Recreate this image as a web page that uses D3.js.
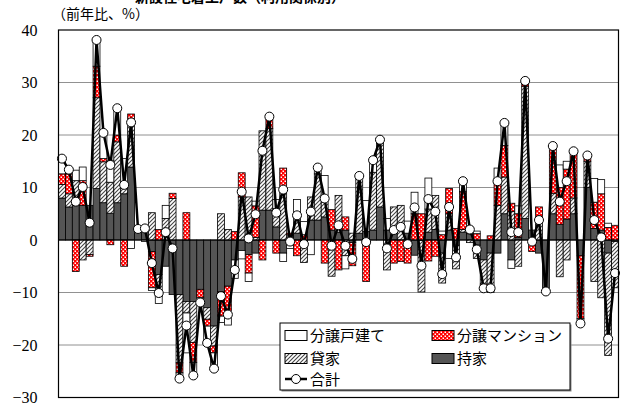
<!DOCTYPE html>
<html>
<head>
<meta charset="utf-8">
<script src="https://cdn.jsdelivr.net/npm/d3@7"></script>
<style>
  body { margin: 0; background: #fff; }
  svg { display: block; }
</style>
</head>
<body>
<svg id="chart" width="626" height="406"></svg>
<script>
// Monthly contributions to year-on-year change of housing starts (%pt) by tenure
const months = d3.range(1, 82);
const mochiie = [8.0, 6.3, 6.9, 6.6, 6.6, 9.8, 7.1, 5.1, 7.1, 8.8, 13.9, 1.9, 1.6, -2.2, -6.6, -5.0, -10.4, -10.4, -11.7, -11.7,
  -9.4, -12.9, -16.4, -9.8, -8.8, -3.8, -2.0, -2.8, -2.5, 5.7, 5.7, 2.5, -2.5, 1.0, 1.3, -1.5, 3.8, 3.8, 4.4, 1.9,
  1.5, 1.9, -0.5, 1.3, 1.6, 1.9, 6.3, 1.9, 1.3, 0, 1.3, -2.9, -0.1, 1.5, 2.0, -2.5, 1.9, -1.0, 1.5, 1.2,
  -1.0, -3.8, -2.5, -2.5, 5.0, -3.8, 0.5, 4.1, 1.9, -2.5, -9.3, 5.0, 3.0, 4.0, 5.0, -3.0, 10.0, 2.2, 1.9, -2.5, -0.3];
const kashiya = [2.6, 2.5, 4.4, -3.8, -2.8, 17.3, 7.8, 5.9, 11.6, 1.6, 9.1, 0, 0.9, 5.2, -4.1, 4.1, 7.9, -13.0, -2.2, -7.8,
  0, -2.2, -3.8, 5.0, 2.0, 0, 8.2, 8.2, 0.5, 15.1, 15.5, 3.5, 9.8, -0.6, 2.9, -2.8, 4.4, 8.8, 3.8, -6.9,
  7.0, -3.0, 1.3, 10.9, 0, 11.0, 12.2, -5.7, 5.0, 6.6, 0, 0, -9.8, 4.4, 6.5, -5.7, 3.1, -4.5, 0.5, -0.5,
  -2.5, -4.6, -7.5, 6.6, 7.0, 5.4, -5.0, 25.2, -0.8, 3.5, -0.5, 3.9, -7.0, -3.8, 3.0, 0, 5.0, -7.9, -11.0, -19.5, -8.8];
const mansion = [2.0, 3.8, -6.0, 4.7, -0.3, 6.0, 0.6, -0.9, 1.3, -5.0, 1.0, 0, 0, -6.9, 2.0, 0, 1.0, -1.9, 5.2, -3.8,
  -1.6, -1.3, -1.3, -4.7, -5.7, 1.6, 4.6, -3.5, 6.0, -3.8, 2.3, -2.5, 3.9, 0.3, -3.0, 1.0, 0, 0, -4.4, 3.9,
  -5.7, 2.5, -4.4, 0, -7.9, 0, 0.6, 0, -4.4, -4.1, -4.4, 5.0, 5.0, -4.0, -3.1, 1.0, 4.8, 2.2, 7.2, 0.3,
  1.2, -0.8, 0.8, 4.8, 6.0, 1.6, 4.5, 1.0, -1.4, 2.8, 0, 8.5, 7.0, 9.5, 8.9, -12.0, 1.1, 5.0, 6.9, 2.4, 2.8];
const kodate = [2.9, 0.8, 2.0, 2.6, 0, 5.0, 4.9, 4.2, 5.1, 5.1, -1.6, 0.2, -0.3, -0.5, -1.4, 2.5, 0, -1.1, -7.6, -2.5,
  -0.9, -3.2, -3.0, -1.2, -1.7, -3.5, -1.6, -1.6, 0.9, 0, 0, 1.7, -1.6, -1.0, 3.5, 2.5, -2.8, 1.2, 4.1, 0,
  0, -2.5, 0, 0, 5.9, 2.3, 0, 2.2, 0, 0, 2.3, 4.1, 0, 5.9, 0, 0.7, -3.5, 0, 2.0, 1.0,
  0.5, 0, 0, 2.3, 4.3, -1.6, 1.5, 0, 0, 0, 0, 0.5, 4.3, 1.5, 0, -0.9, 0, 4.5, 2.7, 0.8, 0];
const total = [15.5, 13.4, 7.3, 10.1, 3.3, 38.1, 20.4, 14.3, 25.1, 10.5, 22.4, 2.1, 2.2, -4.4, -10.1, 1.5, -1.6, -26.4, -16.3, -25.8,
  -11.9, -19.6, -24.5, -10.7, -14.2, -5.7, 9.2, 0.3, 4.9, 17.0, 23.5, 5.2, 9.6, -0.3, 4.7, -0.8, 5.4, 13.8, 7.9, -1.1,
  2.8, -1.1, -3.6, 12.2, -0.4, 15.2, 19.1, -1.6, 1.9, 2.5, -0.8, 6.2, -4.9, 7.8, 5.4, -6.5, 6.3, -3.3, 11.2, 2.0,
  -1.8, -9.2, -9.2, 11.2, 22.3, 1.5, 1.5, 30.3, -0.3, 3.8, -9.8, 17.9, 7.3, 11.2, 16.9, -15.9, 16.1, 3.8, 0.5, -18.8, -6.3];
const yTicks = [40, 30, 20, 10, 0, -10, -20, -30];
const seriesKeys = ["mochiie", "kashiya", "mansion", "kodate"];
const seriesNames = { kodate: "分譲戸建て", mansion: "分譲マンション", kashiya: "貸家", mochiie: "持家" };

const svg = d3.select("#chart");
const defs = svg.append("defs");

// fill patterns
const hatch = defs.append("pattern").attr("id", "hatch").attr("patternUnits", "userSpaceOnUse")
  .attr("width", 4).attr("height", 4);
hatch.append("rect").attr("width", 4).attr("height", 4).attr("fill", "#fff");
hatch.append("path").attr("d", "M-1,1 l2,-2 M0,4 l4,-4 M3,5 l2,-2")
  .attr("stroke", "#444").attr("stroke-width", 1.1);

const dots = defs.append("pattern").attr("id", "dots").attr("patternUnits", "userSpaceOnUse")
  .attr("width", 4).attr("height", 4);
dots.append("rect").attr("width", 4).attr("height", 4).attr("fill", "#f00");
dots.append("rect").attr("x", 0.5).attr("y", 0.5).attr("width", 1.5).attr("height", 1.5).attr("fill", "#fff");
dots.append("rect").attr("x", 2.5).attr("y", 2.5).attr("width", 1.5).attr("height", 1.5).attr("fill", "#fff");

const fills = { kodate: "#fff", mansion: "url(#dots)", kashiya: "url(#hatch)", mochiie: "#555" };

const plotL = 58.5, plotR = 618.5, plotT = 30, plotB = 397.5;
const x = d3.scaleBand().domain(months).range([plotL, plotR]).padding(0);
const y = d3.scaleLinear().domain([-30, 40]).range([plotB, plotT]);

// title (runs off the top edge)
svg.append("text").attr("x", 240).attr("y", 1.5).attr("text-anchor", "middle")
  .attr("font-family", "'Noto Sans CJK JP', sans-serif").attr("font-size", 14).attr("font-weight", "bold")
  .text("新設住宅着工戸数（利用関係別）");

// unit label
svg.append("text").attr("x", 52).attr("y", 19)
  .attr("font-family", "'Noto Sans CJK JP', sans-serif").attr("font-size", 14)
  .text("（前年比、%）");

// grid lines
svg.append("g").selectAll("line").data(yTicks.filter(t => t !== 0 && t !== 40 && t !== -30)).join("line")
  .attr("x1", plotL).attr("x2", plotR).attr("y1", d => y(d)).attr("y2", d => y(d))
  .attr("stroke", "#222").attr("stroke-width", 1).attr("stroke-dasharray", "1,1");

// y axis labels
const yAxis = d3.axisLeft(y).tickValues(yTicks).tickSize(0).tickPadding(21).tickFormat(d3.format("d"));
const ga = svg.append("g").attr("transform", `translate(${plotL},0)`).call(yAxis);
ga.select(".domain").remove();
ga.selectAll("text").attr("font-family", "'Liberation Serif', serif").attr("font-size", 16).attr("fill", "#000");

// stacked bars
const table = months.map((m, i) => ({ month: m, mochiie: mochiie[i], kashiya: kashiya[i], mansion: mansion[i], kodate: kodate[i] }));
const stacked = d3.stack().keys(seriesKeys).offset(d3.stackOffsetDiverging)(table);
svg.append("g").selectAll("g").data(stacked).join("g")
  .attr("fill", d => fills[d.key])
  .selectAll("rect").data(d => d.filter(s => s[1] !== s[0])).join("rect")
  .attr("x", d => x(d.data.month))
  .attr("width", x.bandwidth())
  .attr("y", d => y(Math.max(d[0], d[1])))
  .attr("height", d => Math.abs(y(d[0]) - y(d[1])))
  .attr("stroke", "#000").attr("stroke-width", 0.8);

// zero line
svg.append("line").attr("x1", plotL).attr("x2", plotR).attr("y1", y(0)).attr("y2", y(0))
  .attr("stroke", "#000").attr("stroke-width", 1);

// total line
const cx = m => x(m) + x.bandwidth() / 2;
svg.append("path").datum(total)
  .attr("d", d3.line().x((d, i) => cx(months[i])).y(d => y(d)))
  .attr("fill", "none").attr("stroke", "#000").attr("stroke-width", 2.5);
svg.append("g").selectAll("circle").data(total).join("circle")
  .attr("cx", (d, i) => cx(months[i])).attr("cy", d => y(d)).attr("r", 4.5)
  .attr("fill", "#fff").attr("stroke", "#000").attr("stroke-width", 1);

// plot frame
svg.append("rect").attr("x", plotL).attr("y", plotT).attr("width", plotR - plotL).attr("height", plotB - plotT)
  .attr("fill", "none").attr("stroke", "#000").attr("stroke-width", 1.2);

// legend
const lg = svg.append("g").attr("transform", "translate(280,323)");
lg.append("rect").attr("x", 1.5).attr("y", 1.5).attr("width", 290).attr("height", 67).attr("fill", "#888");
lg.append("rect").attr("width", 290).attr("height", 67).attr("fill", "#fff").attr("stroke", "#000").attr("stroke-width", 1);
const items = [
  { key: "kodate", col: 0, row: 0 }, { key: "mansion", col: 1, row: 0 },
  { key: "kashiya", col: 0, row: 1 }, { key: "mochiie", col: 1, row: 1 }
];
const colX = [5, 152], rowY = [16.5, 39.5];
items.forEach(it => {
  const gx = colX[it.col], gy = rowY[it.row];
  lg.append("rect").attr("x", gx).attr("y", gy - 9).attr("width", 22).attr("height", 10)
    .attr("fill", fills[it.key]).attr("stroke", "#000").attr("stroke-width", 1);
  lg.append("text").attr("x", gx + 25).attr("y", gy + 1.5)
    .attr("font-family", "'Noto Sans CJK JP', sans-serif").attr("font-size", 15)
    .text(seriesNames[it.key]);
});
lg.append("line").attr("x1", 5).attr("x2", 27).attr("y1", 56).attr("y2", 56).attr("stroke", "#000").attr("stroke-width", 2.5);
lg.append("circle").attr("cx", 16).attr("cy", 56).attr("r", 4.5).attr("fill", "#fff").attr("stroke", "#000");
lg.append("text").attr("x", 30).attr("y", 61.5)
  .attr("font-family", "'Noto Sans CJK JP', sans-serif").attr("font-size", 15).text("合計");
</script>
</body>
</html>
